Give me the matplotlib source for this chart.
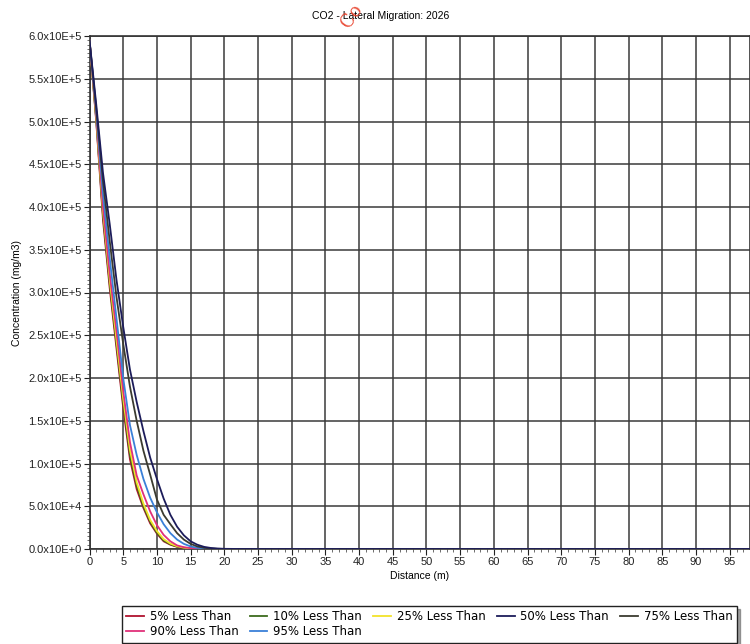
import matplotlib
matplotlib.use("Agg")
import matplotlib.pyplot as plt
from matplotlib.ticker import MultipleLocator, FixedLocator

plt.rcParams['font.family'] = ['Liberation Sans', 'DejaVu Sans']

distance = [0, 1, 2, 3, 4, 5, 6, 7, 8, 9, 10, 11, 12, 13, 14, 15, 16, 17, 18, 19, 20, 22, 25,
            30, 35, 40, 45, 50, 55, 60, 65, 70, 75, 80, 85, 90, 95, 100]

zeros_tail = [0] * 15

p05 = [5.95e5, 5.0e5, 3.85e5, 3.05e5, 2.35e5, 1.65e5, 1.05e5, 7.0e4, 4.8e4, 3.0e4, 1.8e4,
       9e3, 5e3, 2.5e3, 1.2e3, 500, 200, 100, 50, 20, 0, 0, 0] + zeros_tail
p10 = [5.95e5, 5.02e5, 3.9e5, 3.1e5, 2.4e5, 1.7e5, 1.1e5, 7.4e4, 5.0e4, 3.2e4, 1.9e4,
       1.0e4, 5.5e3, 2.8e3, 1.4e3, 600, 250, 120, 60, 25, 0, 0, 0] + zeros_tail
p25 = [5.95e5, 5.05e5, 3.95e5, 3.15e5, 2.45e5, 1.76e5, 1.16e5, 7.8e4, 5.3e4, 3.4e4, 2.1e4,
       1.15e4, 6.3e3, 3.2e3, 1.6e3, 700, 300, 140, 70, 30, 0, 0, 0] + zeros_tail
p50 = [5.95e5, 5.2e5, 4.4e5, 3.8e5, 3.15e5, 2.6e5, 2.1e5, 1.72e5, 1.38e5, 1.07e5, 8.2e4,
       5.9e4, 4.0e4, 2.6e4, 1.6e4, 9e3, 5e3, 2.5e3, 1.2e3, 500, 200, 50, 0] + zeros_tail
p75 = [5.95e5, 5.15e5, 4.3e5, 3.6e5, 2.95e5, 2.4e5, 1.9e5, 1.5e5, 1.15e5, 8.7e4, 5.8e4,
       4.0e4, 2.9e4, 1.85e4, 1.1e4, 6e3, 3e3, 1.4e3, 600, 250, 100, 20, 0] + zeros_tail
p90 = [5.95e5, 5.08e5, 4.0e5, 3.22e5, 2.55e5, 1.85e5, 1.25e5, 8.6e4, 6.4e4, 4.4e4, 2.8e4,
       1.65e4, 9e3, 4.2e3, 2.1e3, 1e3, 450, 200, 90, 40, 10, 0, 0] + zeros_tail
p95 = [5.95e5, 5.12e5, 4.15e5, 3.4e5, 2.7e5, 2.0e5, 1.45e5, 1.1e5, 8.2e4, 6.0e4, 4.3e4,
       2.9e4, 1.85e4, 1.1e4, 6e3, 3e3, 1.4e3, 600, 250, 100, 40, 0, 0] + zeros_tail

series_labels = ["5% Less Than", "10% Less Than", "25% Less Than", "50% Less Than",
                 "75% Less Than", "90% Less Than", "95% Less Than"]
series_values = [p05, p10, p25, p50, p75, p90, p95]
series_colors = ["#b0122e", "#3d6b1c", "#f2e32a", "#1c1c5a", "#3b3b30", "#e0307a", "#3a80d8"]

y_ticks = [0, 5e4, 1e5, 1.5e5, 2e5, 2.5e5, 3e5, 3.5e5, 4e5, 4.5e5, 5e5, 5.5e5, 6e5]
y_tick_labels = ["0.0x10E+0", "5.0x10E+4", "1.0x10E+5", "1.5x10E+5", "2.0x10E+5", "2.5x10E+5",
                 "3.0x10E+5", "3.5x10E+5", "4.0x10E+5", "4.5x10E+5", "5.0x10E+5", "5.5x10E+5",
                 "6.0x10E+5"]
x_ticks = list(range(0, 100, 5))

fig = plt.figure(figsize=(7.5, 6.44), dpi=100)
ax = fig.add_axes([89.5 / 750, 1 - 549 / 644, (750 - 89.5) / 750, (549 - 36) / 644])

draw_order = [0, 1, 2, 5, 6, 4, 3]
handles = {}
for i in draw_order:
    h, = ax.plot(distance, series_values[i], color=series_colors[i], lw=1.3,
                 label=series_labels[i], zorder=3)
    handles[i] = h

ax.set_xlim(0, 98)
ax.set_ylim(0, 6.0e5)
ax.xaxis.set_major_locator(FixedLocator(x_ticks))
ax.set_xticklabels([str(v) for v in x_ticks])
ax.xaxis.set_minor_locator(MultipleLocator(1))
ax.yaxis.set_major_locator(FixedLocator(y_ticks))
ax.set_yticklabels(y_tick_labels)
ax.yaxis.set_minor_locator(MultipleLocator(5e3))

ax.grid(True, which='major', color='#3a3a3a', lw=1.1, zorder=1)
ax.tick_params(axis='both', which='major', labelsize=8, length=4, width=0.8, pad=1.5,
               colors='#222222')
ax.tick_params(axis='both', which='minor', length=2.5, width=0.6, colors='#555555')
for s in ax.spines.values():
    s.set_color('#333333')
    s.set_linewidth(1.2)

ax.set_xlabel("Distance (m)", fontsize=7.5, labelpad=3)
ax.set_ylabel("Concentration (mg/m3)", fontsize=7.5, labelpad=5)
fig.text(0.507, 0.975, "CO2 - Lateral Migration: 2026", ha='center', va='center', fontsize=7.5)
fig.text(352 / 750, 1 - 16 / 644, "Co", color='#e8402a', fontsize=13, rotation=55,
         ha='center', va='center', family='DejaVu Serif', alpha=0.9)

# legend filled column by column -> arrange so rows read 5,10,25,50,75 / 90,95
leg_order = [0, 5, 1, 6, 2, 3, 4]
leg = fig.legend([handles[i] for i in leg_order], [series_labels[i] for i in leg_order],
                 loc='upper left', bbox_to_anchor=(122 / 750, 1 - 606 / 644),
                 ncol=5, frameon=True, fancybox=False, shadow=True,
                 prop={'family': 'DejaVu Sans', 'size': 8.5},
                 handlelength=1.5, handletextpad=0.5, columnspacing=0.95, borderpad=0.35,
                 labelspacing=0.2, borderaxespad=0)
leg.get_frame().set_edgecolor('#222222')
leg.get_frame().set_linewidth(1.0)

fig.savefig("out.png", dpi=100)
